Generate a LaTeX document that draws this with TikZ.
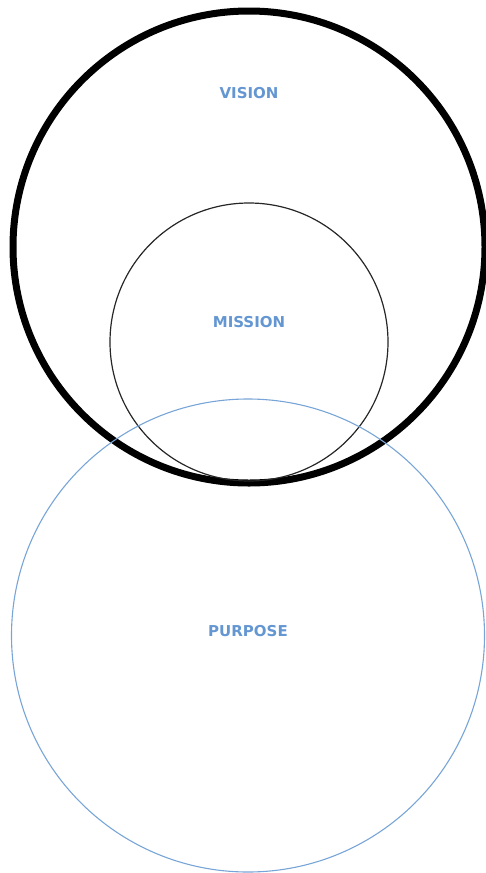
\documentclass[tikz,border=0pt]{standalone}
\usepackage{fontspec}
\setsansfont{DejaVu Sans}
\usepackage{xcolor}
\usepackage{tikz}
\usetikzlibrary{shapes,positioning}

\definecolor{labelblue}{RGB}{100,150,210}
\definecolor{ringblue}{RGB}{120,165,215}

\begin{document}
\begin{tikzpicture}[
    x=1pt, y=-1pt,
    ring/.style={circle, draw, inner sep=0pt, outer sep=0pt},
    label/.style={font=\sffamily\bfseries\fontsize{15}{18}\selectfont, text=labelblue}
]
\useasboundingbox (0,0) rectangle (486,873);

% Circles
\node[ring, line width=7pt, minimum size=472pt] (vision) at (249,247) {};
\node[ring, line width=1.2pt, draw=black!85, minimum size=278pt] (mission) at (249,342) {};
\node[ring, line width=1.1pt, draw=ringblue, minimum size=473pt] (purpose) at (248,635.5) {};

% Labels
\node[label] (visiontext) at (249,93) {VISION};
\node[label] (missiontext) at (249,322) {MISSION};
\node[label] (purposetext) at (248,631) {PURPOSE};

\end{tikzpicture}
\end{document}
